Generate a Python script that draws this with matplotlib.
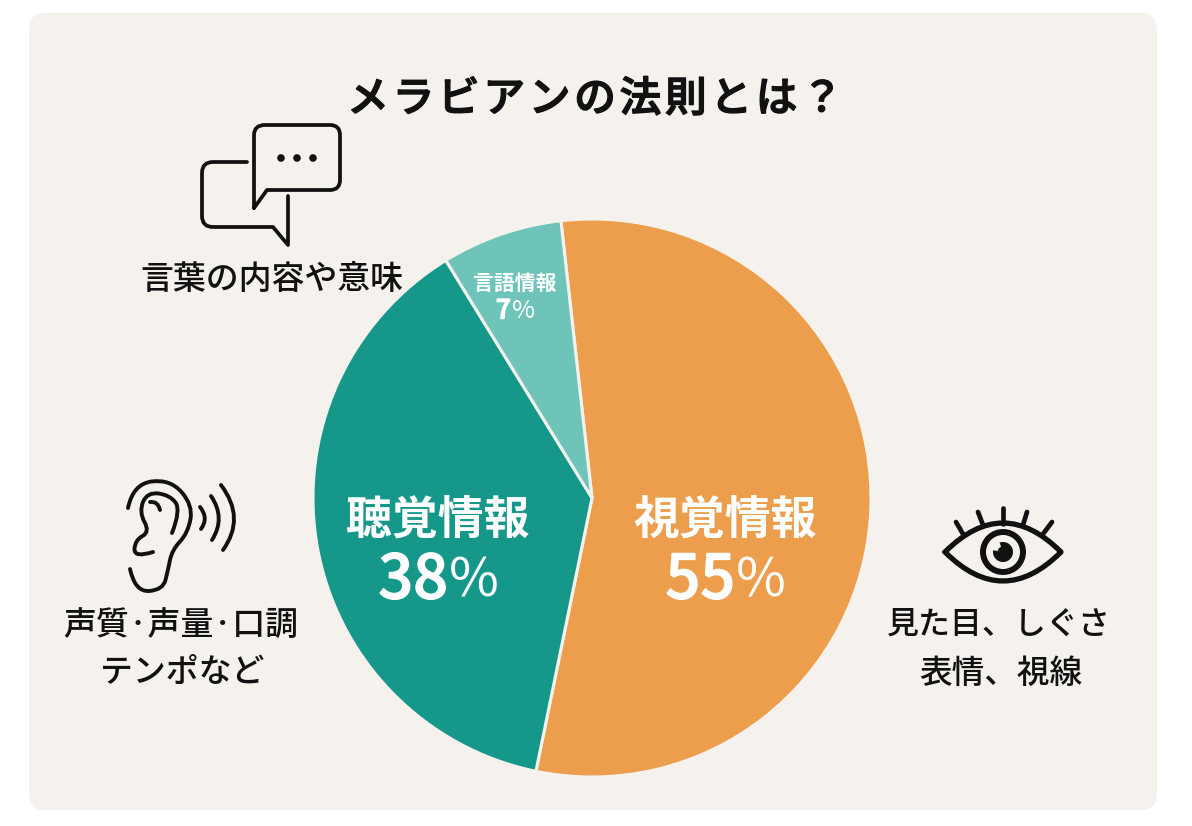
import matplotlib
matplotlib.use("Agg")
import matplotlib.pyplot as plt
import matplotlib.patheffects as pe
from matplotlib.patches import FancyBboxPatch, PathPatch, Circle, Wedge
from matplotlib.path import Path

plt.rcParams['font.family'] = ['Noto Sans CJK JP', 'DejaVu Sans']

# pie data
values = [55, 38, 7]
colors = ['#EC9E4C', '#15988A', '#6EC4B8']
start_angle = 96.4

title = 'メラビアンの法則とは？'
big_names = ['視覚情報', '聴覚情報']
big_pcts = ['55', '38']
small_name = '言語情報'
small_pct = '7'

bg = '#F5F2EE'
ink = '#111111'

fig = plt.figure(figsize=(11.92, 8.26), dpi=100, facecolor='white')

# overlay in pixel coords, y going down
ax = fig.add_axes([0, 0, 1, 1])
ax.set_xlim(0, 1192)
ax.set_ylim(826, 0)
ax.axis('off')
ax.add_patch(FancyBboxPatch((29, 13), 1128, 797, boxstyle='round,pad=0,rounding_size=16',
                            facecolor=bg, edgecolor='none'))

# pie gets its own axes
cx, cy, r = 592, 498, 279
pie_ax = fig.add_axes([(cx - r) / 1192, 1 - (cy + r) / 826, 2 * r / 1192, 2 * r / 826])
pie_ax.pie(values, colors=colors, startangle=start_angle, counterclock=False, radius=1,
           wedgeprops={'edgecolor': bg, 'linewidth': 2.2})
pie_ax.set_xlim(-1, 1)
pie_ax.set_ylim(-1, 1)

# text on top of the pie
top = fig.add_axes([0, 0, 1, 1])
top.set_xlim(0, 1192)
top.set_ylim(826, 0)
top.axis('off')
top.patch.set_alpha(0)


def label(x, y, s, size, color=ink, weight='medium', ha='center', thicken=0):
    t = top.text(x, y, s, fontsize=size, color=color, fontweight=weight, ha=ha, va='center')
    if thicken:
        t.set_path_effects([pe.withStroke(linewidth=thicken, foreground=color)])


def stroke(pts, lw=2.8, color=ink):
    # smooth curve, inner points act as control points
    verts = [pts[0]]
    codes = [Path.MOVETO]
    for i in range(1, len(pts) - 1):
        if i < len(pts) - 2:
            end = ((pts[i][0] + pts[i + 1][0]) / 2, (pts[i][1] + pts[i + 1][1]) / 2)
        else:
            end = pts[i + 1]
        verts += [pts[i], end]
        codes += [Path.CURVE3, Path.CURVE3]
    top.add_patch(PathPatch(Path(verts, codes), fill=False, edgecolor=color, lw=lw, capstyle='round'))


def poly(verts, codes, lw=2.7):
    top.add_patch(PathPatch(Path(verts, codes), fill=False, edgecolor=ink, lw=lw,
                            capstyle='round', joinstyle='round'))


def pct(x_split, y, digits, size, pct_size, weight='medium', thicken=1.0):
    # the percent sign is thinner than the digits
    label(x_split, y, digits, size, 'white', weight, ha='right', thicken=thicken)
    label(x_split + 1, y, '%', pct_size, 'white', 'normal', ha='left')


M, L, Q = Path.MOVETO, Path.LINETO, Path.CURVE3

# title is letterspaced, so place it one character at a time
for i, ch in enumerate(title):
    label(368 + i * 45.4, 99, ch, 30, thicken=1.0)

label(725, 521, big_names[0], 33, 'white', 'bold')
pct(735, 581, big_pcts[0], 44, 39)
label(438, 521, big_names[1], 33, 'white', 'bold')
pct(448, 581, big_pcts[1], 44, 39)
label(515, 283, small_name, 15, 'white', 'bold')
pct(511, 311, small_pct, 19, 18)

label(272, 279, '言葉の内容や意味', 23.7)
label(181, 626, '声質·声量·口調', 23.7)
label(182, 672, 'テンポなど', 23.7)
label(999, 625, '見た目、しぐさ', 23)
label(1001, 673, '表情、視線', 23.5)

# chat icon, front bubble
poly([(254, 208), (254, 135), (254, 125), (265, 125), (330, 125), (340, 125), (340, 135),
      (340, 180), (340, 190), (330, 190), (267, 190), (254, 208)],
     [M, L, Q, Q, L, Q, Q, L, Q, Q, L, L])
# back bubble
poly([(247, 162), (213, 162), (202, 162), (202, 173), (202, 216), (202, 227), (213, 227),
      (273, 227), (288, 245), (288, 196)],
     [M, L, Q, Q, L, Q, Q, L, L, L])
for dot_x in (281, 297, 313):
    top.add_patch(Circle((dot_x, 158), 3.8, color=ink, lw=0))

# ear icon
stroke([(128, 508), (133, 484), (170, 479), (193, 505), (188, 533), (172, 550),
        (168, 570), (163, 590), (135, 592), (130, 569)])
stroke([(172, 533), (181, 510), (170, 495), (147, 492), (139, 512), (150, 532),
        (135, 540), (134, 558), (153, 552)])
stroke([(150, 502), (158, 501), (160, 510)])
stroke([(200, 507), (209, 518), (201, 529)])
stroke([(211, 496), (226, 518), (212, 540)])
stroke([(221, 485), (246, 518), (223, 550)])

# eye icon
poly([(945, 552), (1003, 494), (1061, 552), (1003, 610), (945, 552)], [M, Q, Q, Q, Q], lw=3.8)
top.add_patch(Circle((1003, 552), 20, fill=False, edgecolor=ink, lw=4.3))
top.add_patch(Wedge((1003, 552), 10, 250, 550, color=ink, lw=0))
top.add_patch(Circle((1003, 552), 5.5, color=ink, lw=0))
for x0, y0, x1, y1 in [(1003, 508, 1003, 524), (978, 512, 983, 525), (1027, 512, 1023, 525),
                       (956, 522, 963, 534), (1052, 522, 1043, 534)]:
    top.plot([x0, x1], [y0, y1], color=ink, lw=3.4, solid_capstyle='round')
top.set_xlim(0, 1192)
top.set_ylim(826, 0)

fig.savefig('out.png', dpi=100, facecolor='white')
